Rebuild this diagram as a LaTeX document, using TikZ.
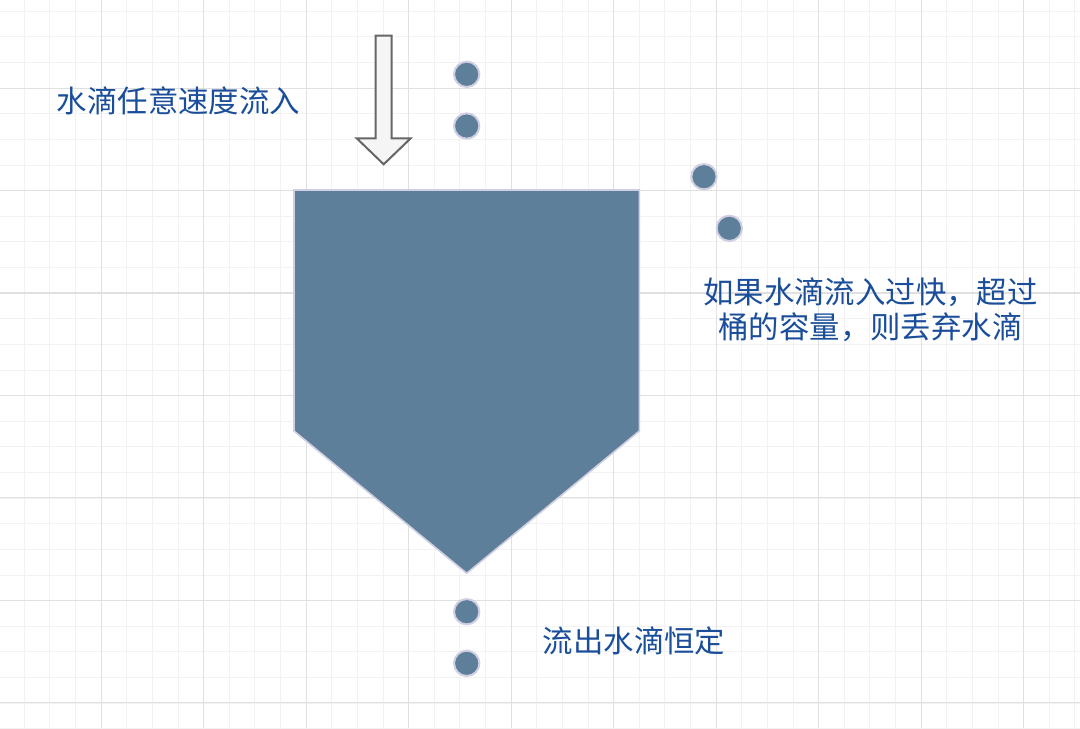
\documentclass[tikz,border=0pt]{standalone}
\usepackage{fontspec}
\newfontfamily\cjk{Noto Sans CJK SC}
\definecolor{gridminor}{HTML}{F2F2F2}
\definecolor{gridmajor}{HTML}{E0E0E0}
\definecolor{bucketfill}{HTML}{5D7F99}
\definecolor{bucketline}{HTML}{D0CEE2}
\definecolor{txtblue}{HTML}{1A4E9A}
\definecolor{arrowfill}{HTML}{F5F5F5}
\definecolor{arrowline}{HTML}{666666}
\tikzset{
  minorline/.style={draw=gridminor, line width=0.75pt},
  majorline/.style={draw=gridmajor, line width=0.9pt},
  drop/.style={circle, fill=bucketfill, draw=bucketline, line width=1.5pt, minimum size=19pt, inner sep=0pt},
  bucket/.style={fill=bucketfill, draw=bucketline, line width=1.2pt, line join=miter},
  bigarrow/.style={fill=arrowfill, draw=arrowline, line width=1.5pt, line join=miter},
  label/.style={font=\cjk\fontsize{22.8pt}{26.5pt}\selectfont, text=txtblue, inner sep=0pt, align=center}
}
\begin{document}
\begin{tikzpicture}[x=0.75pt, y=-0.75pt]
\useasboundingbox[fill=white] (0,0) rectangle (1080,728);
% grid
\foreach \i in {0,...,42} {
  \pgfmathsetmacro{\gx}{24.3+25.625*\i}
  \draw[minorline] (\gx,0) -- (\gx,728);
}
\foreach \i in {0,...,28} {
  \pgfmathsetmacro{\gy}{11.3+25.625*\i}
  \draw[minorline] (0,\gy) -- (1080,\gy);
}
\foreach \i in {0,...,9} {
  \pgfmathsetmacro{\gx}{101.2+102.5*\i}
  \draw[majorline] (\gx,0) -- (\gx,728);
}
\foreach \i in {0,...,6} {
  \pgfmathsetmacro{\gy}{88.2+102.4*\i}
  \draw[majorline] (0,\gy) -- (1080,\gy);
}
% bucket
\coordinate (tl) at (294,190);
\coordinate (tr) at (639.3,190);
\coordinate (rr) at (639.3,431);
\coordinate (tip) at (466.7,573.3);
\coordinate (ll) at (294,431);
\draw[bucket] (tl) -- (tr) -- (rr) -- (tip) -- (ll) -- cycle;
% inflow arrow
\coordinate (a1) at (375.7,35.7);
\coordinate (a2) at (391.7,35.7);
\coordinate (a3) at (391.7,138.3);
\coordinate (a4) at (410.7,138.3);
\coordinate (a5) at (383.7,164.3);
\coordinate (a6) at (356.7,138.3);
\coordinate (a7) at (375.7,138.3);
\draw[bigarrow] (a1) -- (a2) -- (a3) -- (a4) -- (a5) -- (a6) -- (a7) -- cycle;
% drops
\node[drop] (d1) at (466.7,74.3) {};
\node[drop] (d2) at (466.7,126) {};
\node[drop] (d3) at (704,176.7) {};
\node[drop] (d4) at (729.3,228.3) {};
\node[drop] (d5) at (466.7,611.7) {};
\node[drop] (d6) at (466.7,663.3) {};
% labels
\node[label] (t1) at (178.5,101) {水滴任意速度流入};
\node[label] (t2) at (870.5,309.5) {如果水滴流入过快，超过\\桶的容量，则丢弃水滴};
\node[label] (t3) at (634,641) {流出水滴恒定};
\end{tikzpicture}
\end{document}
